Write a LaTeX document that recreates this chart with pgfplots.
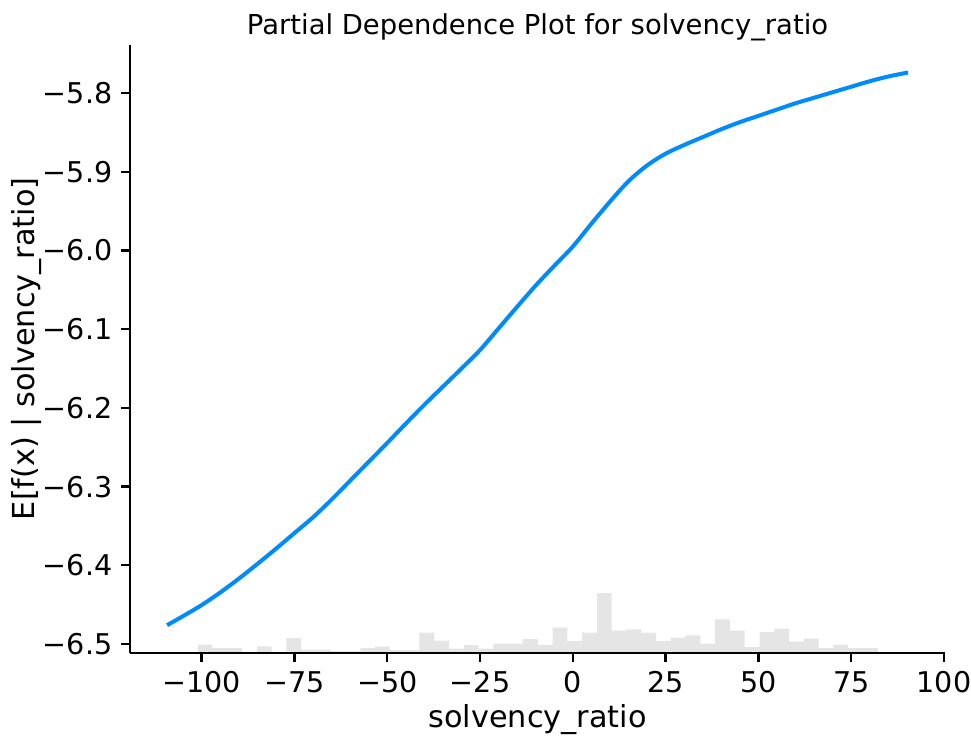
\documentclass[border=0pt]{standalone}
\usepackage{fontspec}
\setmainfont{DejaVu Sans}
\usepackage{pgfplots}
\pgfplotsset{compat=1.18}
\definecolor{shapblue}{HTML}{008BFB}

\begin{document}
\begin{tikzpicture}
\useasboundingbox (-45.5pt,-30.56pt) rectangle (294.35pt,228.45pt);
% histogram (twin axis, heights in pixel units of the axis height)
\begin{axis}[at={(0,0)}, anchor=south west, scale only axis,
  width=285.3pt, height=212.7pt,
  xmin=-119.3, xmax=100.3, ymin=0, ymax=607.7, hide axis]
\addplot[ybar interval, fill=black!10, draw=none] table {
x h
-101.06 8
-97.08 4.6
-93.09 4.6
-89.11 0
-85.13 6.3
-81.15 0
-77.16 14.6
-73.18 3
-69.20 3
-65.21 1.5
-61.23 1.5
-57.25 4.5
-53.26 6
-49.28 2.5
-45.30 2.5
-41.32 20
-37.33 12
-33.35 4
-29.37 7.5
-25.38 4
-21.40 9
-17.42 9
-13.43 13.7
-9.45 7.5
-5.47 25
-1.49 11.7
2.50 20
6.48 59.7
10.46 22
14.45 23.3
18.43 20
22.41 11.7
26.40 15
30.38 17.3
34.36 9
38.35 33.3
42.33 22
46.31 5.5
50.29 20.7
54.28 24
58.26 11
62.24 14
66.23 4.7
70.21 8
74.19 4.7
78.18 4.7
82.16 0
};
\end{axis}
\begin{axis}[at={(0,0)}, anchor=south west, scale only axis,
  width=285.3pt, height=212.7pt,
  xmin=-119.3, xmax=100.3, ymin=-6.511, ymax=-5.739,
  axis x line*=bottom, axis y line*=left,
  axis line style={line width=0.8pt, -},
  tick style={line width=0.8pt, black},
  tick align=outside, major tick length=3.2pt,
  xtick={-100,-75,-50,-25,0,25,50,75,100},
  xticklabels={−100,−75,−50,−25,0,25,50,75,100},
  ytick={-6.5,-6.4,-6.3,-6.2,-6.1,-6.0,-5.9,-5.8},
  yticklabels={−6.5,−6.4,−6.3,−6.2,−6.1,−6.0,−5.9,−5.8},
  tick label style={font=\fontsize{10}{12}\selectfont},
  xticklabel style={anchor=base, inner sep=0pt, yshift=-10.6pt},
  yticklabel style={anchor=east, inner sep=0pt, xshift=-2.8pt},
  xlabel={solvency\_ratio},
  ylabel={E[f(x) | solvency\_ratio]},
  label style={font=\fontsize{10.6}{13}\selectfont},
  xlabel style={at={(axis description cs:0.5,-0.1223)}, anchor=base, inner sep=0pt},
  ylabel style={at={(axis description cs:-0.1166,0.5)}, anchor=base, inner sep=0pt},
  title={Partial Dependence Plot for solvency\_ratio},
  title style={at={(axis description cs:0.5,1.0197)}, anchor=base, inner sep=0pt, yshift=-6.5pt, font=\fontsize{9.6}{12}\selectfont},
]
\addplot[shapblue, line width=1.4pt, smooth] table {
x y
-109.3 -6.4760
-105 -6.4645
-100 -6.4505
-95 -6.4345
-90 -6.4170
-85 -6.3983
-80 -6.3790
-75 -6.3590
-70 -6.3390
-65 -6.3165
-60 -6.2925
-55 -6.2685
-50 -6.2445
-45 -6.2200
-40 -6.1960
-35 -6.1730
-30 -6.1500
-25 -6.1265
-20 -6.0990
-15 -6.0715
-10 -6.0445
-5 -6.0195
0 -5.9950
5 -5.9660
10 -5.9380
15 -5.9120
20 -5.8920
25 -5.8770
30 -5.8660
35 -5.8560
40 -5.8460
45 -5.8370
50 -5.8290
55 -5.8210
60 -5.8130
65 -5.8060
70 -5.7990
75 -5.7920
80 -5.7850
85 -5.7790
90.3 -5.7739
};
\end{axis}
\end{tikzpicture}
\end{document}
